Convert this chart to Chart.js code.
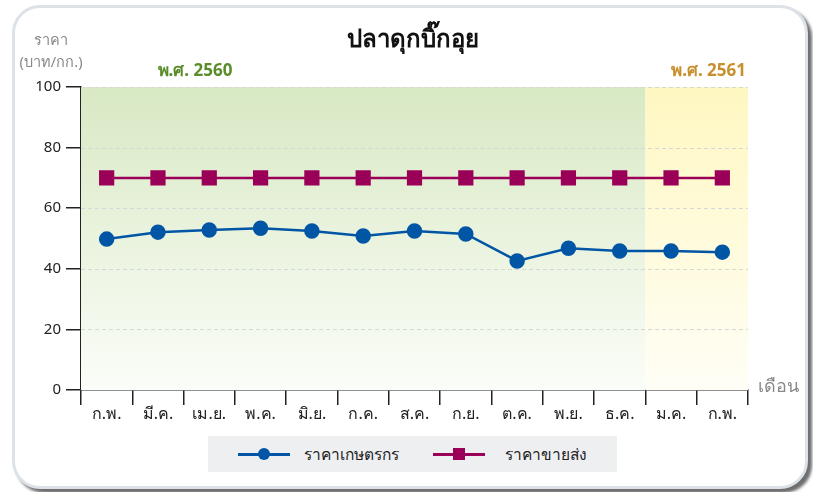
<!DOCTYPE html>
<html>
<head>
<meta charset="utf-8">
<script src="https://cdn.jsdelivr.net/npm/chart.js@4.4.1/dist/chart.umd.min.js"></script>
<style>
  body { margin: 0; background: #fff; width: 813px; height: 492px; overflow: hidden; font-family: Tahoma, "Noto Sans", "DejaVu Sans", sans-serif; }
  .card { position: absolute; left: 12px; top: 5px; width: 790px; height: 478px; border: 3px solid #dde2e8; border-radius: 28px; background: #fff; box-shadow: 4px 4px 3px #6e6e6e; }
  #wrap { position: absolute; left: 0; top: 0; width: 813px; height: 492px; }
  .legend { position: absolute; left: 208px; top: 436px; width: 409px; height: 36px; background: #eeeff1; font-size: 15.5px; color: #222; }
  .item { position: absolute; top: 0; height: 36px; line-height: 36px; }
  .mk { position: absolute; top: 17px; width: 52px; height: 2.5px; }
  .mk span { position: absolute; left: 20px; top: -5px; width: 12px; height: 12px; }
</style>
</head>
<body>
<div class="card"></div>
<div id="wrap"><canvas id="chart" width="813" height="492"></canvas></div>
<div class="legend">
  <div class="item" style="left:30px"><div class="mk" style="background:#0055a5"><span style="background:#0055a5;border-radius:50%"></span></div><div style="position:absolute;left:66px;white-space:nowrap">ราคาเกษตรกร</div></div>
  <div class="item" style="left:225px"><div class="mk" style="background:#9b0058"><span style="background:#9b0058"></span></div><div style="position:absolute;left:72px;white-space:nowrap">ราคาขายส่ง</div></div>
</div>
<script>
const months = ['ก.พ.', 'มี.ค.', 'เม.ย.', 'พ.ค.', 'มิ.ย.', 'ก.ค.', 'ส.ค.', 'ก.ย.', 'ต.ค.', 'พ.ย.', 'ธ.ค.', 'ม.ค.', 'ก.พ.'];
const farmPrice = [49.8, 52.1, 52.8, 53.4, 52.5, 50.8, 52.5, 51.5, 42.6, 46.8, 45.9, 45.9, 45.5];
const wholesalePrice = [70, 70, 70, 70, 70, 70, 70, 70, 70, 70, 70, 70, 70];
const yTicks = [0, 20, 40, 60, 80, 100];
const firstYearMonths = 11;

const font = 'Tahoma, "Noto Sans", "DejaVu Sans", sans-serif';

// background bands and texts around the plot
const decor = {
    id: 'decor',
    beforeDatasetsDraw(chart) {
        const ctx = chart.ctx;
        const a = chart.chartArea;
        const x = chart.scales.x;
        const split = (x.getPixelForValue(firstYearMonths - 1) + x.getPixelForValue(firstYearMonths)) / 2;
        let g = ctx.createLinearGradient(0, a.top, 0, a.bottom);
        g.addColorStop(0, '#d8e9c4');
        g.addColorStop(1, '#fbfdf8');
        ctx.save();
        ctx.fillStyle = g;
        ctx.fillRect(a.left, a.top, split - a.left, a.bottom - a.top);
        g = ctx.createLinearGradient(0, a.top, 0, a.bottom);
        g.addColorStop(0, '#fff7c1');
        g.addColorStop(1, '#fffef6');
        ctx.fillStyle = g;
        ctx.fillRect(split, a.top, a.right - split, a.bottom - a.top);
        // redraw dashed grid over bands
        const y = chart.scales.y;
        ctx.strokeStyle = '#d6d8d6';
        ctx.lineWidth = 1;
        ctx.setLineDash([4, 3]);
        yTicks.slice(1).forEach(v => {
            const py = Math.round(y.getPixelForValue(v)) + 0.5;
            ctx.beginPath();
            ctx.moveTo(a.left, py);
            ctx.lineTo(a.right, py);
            ctx.stroke();
        });
        ctx.restore();
    },
    afterDraw(chart) {
        const ctx = chart.ctx;
        const a = chart.chartArea;
        ctx.save();
        ctx.textBaseline = 'middle';
        ctx.font = 'bold 24px ' + font;
        ctx.fillStyle = '#111';
        ctx.textAlign = 'center';
        ctx.fillText('ปลาดุกบิ๊กอุย', 413, 40);
        ctx.font = '14.5px ' + font;
        ctx.fillStyle = '#888';
        ctx.fillText('ราคา', 51, 41);
        ctx.fillText('(บาท/กก.)', 51, 63);
        ctx.textAlign = 'left';
        ctx.font = '18px ' + font;
        ctx.fillText('เดือน', a.right + 10, 387);
        ctx.font = 'bold 17px ' + font;
        ctx.fillStyle = '#5b8c2a';
        ctx.textAlign = 'center';
        ctx.fillText('พ.ศ. 2560', a.left + 114, 71);
        ctx.fillStyle = '#c8902c';
        ctx.textAlign = 'right';
        ctx.fillText('พ.ศ. 2561', a.right - 2, 71);
        ctx.restore();
    }
};

new Chart(document.getElementById('chart'), {
    type: 'line',
    data: {
        labels: months,
        datasets: [{
            label: 'ราคาเกษตรกร',
            data: farmPrice,
            borderColor: '#0055a5',
            backgroundColor: '#0055a5',
            borderWidth: 2.5,
            pointRadius: 6.5,
            pointHoverRadius: 6.5,
            tension: 0
        }, {
            label: 'ราคาขายส่ง',
            data: wholesalePrice,
            borderColor: '#9b0058',
            backgroundColor: '#9b0058',
            borderWidth: 2.5,
            pointStyle: 'rect',
            pointRadius: 9,
            pointHoverRadius: 9,
            tension: 0
        }]
    },
    options: {
        responsive: false,
        animation: false,
        layout: { padding: { left: 0, right: 65, top: 87, bottom: 0 } },
        plugins: { legend: { display: false }, tooltip: { enabled: false } },
        scales: {
            x: {
                offset: true,
                grid: { offset: true, drawOnChartArea: false, tickLength: 15, tickColor: '#222', lineWidth: 1.5 },
                border: { color: '#222', width: 1.5 },
                ticks: { color: '#222', font: { size: 16, family: font }, padding: 0, maxRotation: 0, autoSkip: false },
                afterFit(s) { s.height = 102; }
            },
            y: {
                min: 0,
                max: 100,
                afterBuildTicks(s) { s.ticks = yTicks.map(v => ({ value: v })); },
                grid: { drawOnChartArea: false, tickLength: 15, tickColor: '#222', lineWidth: 1.5 },
                border: { color: '#222', width: 1.5 },
                ticks: { color: '#222', font: { size: 15, family: font }, padding: 5 },
                afterFit(s) { s.width = 81; }
            }
        }
    },
    plugins: [decor]
});
</script>
</body>
</html>
